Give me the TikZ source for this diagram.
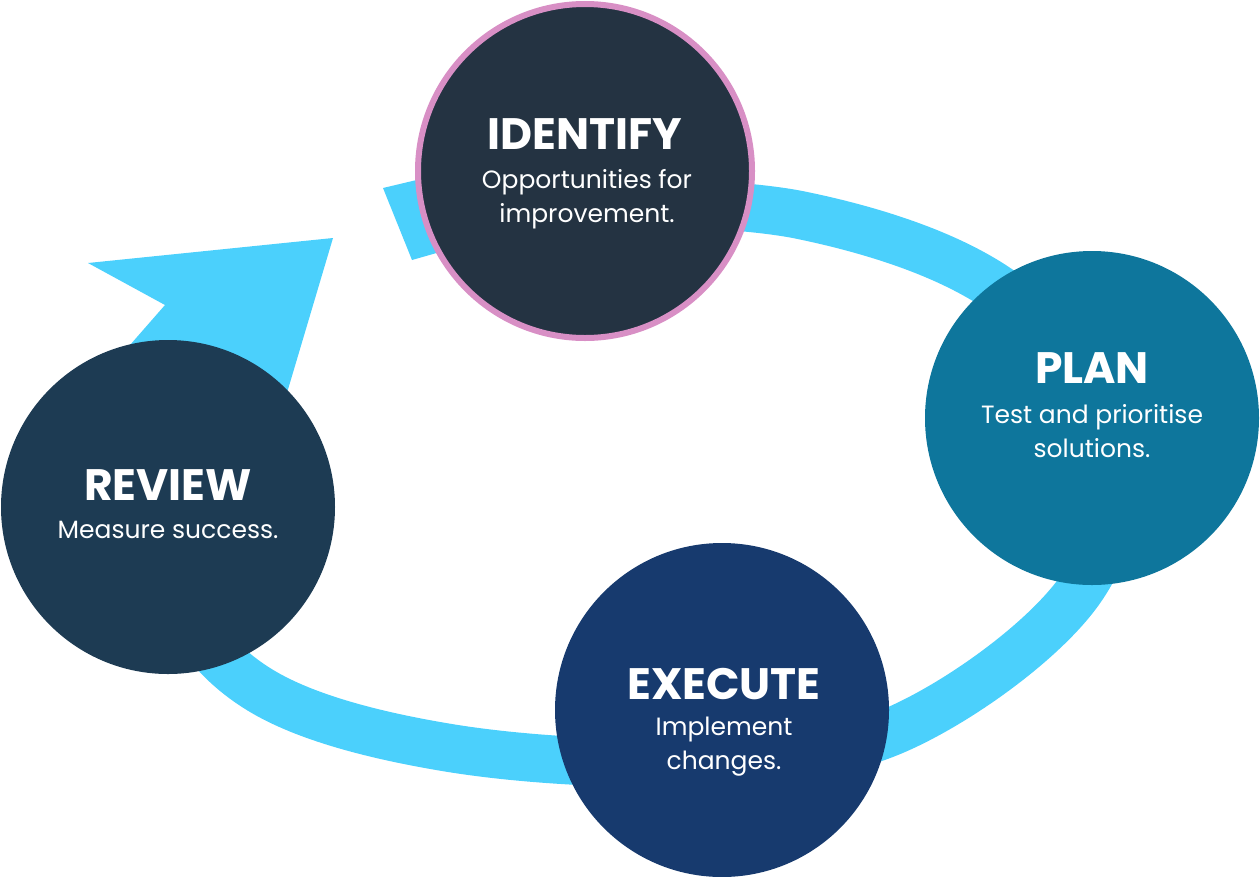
\documentclass[tikz,border=0pt]{standalone}
\usepackage{fontspec}
\setmainfont{Poppins}
\definecolor{ring}{HTML}{4BD0FC}
\definecolor{cid}{HTML}{243342}
\definecolor{cplan}{HTML}{0E769C}
\definecolor{cexe}{HTML}{173A6E}
\definecolor{crev}{HTML}{1D3B53}
\definecolor{pinkb}{HTML}{D88FC5}
\begin{document}
\begin{tikzpicture}[x=1pt,y=-1pt,
  stepc/.style={circle,minimum size=334pt,inner sep=0pt,text=white,align=center},
  ttl/.style={font=\fontsize{44}{50}\selectfont\bfseries},
  sub/.style={font=\fontsize{25}{34}\selectfont}]
\useasboundingbox (0,0) rectangle (1260,876);
% band
\draw[ring,line width=48pt] plot[smooth,tension=0.6] coordinates{(560,200) (800,215) (1000,290) (1110,430) (1080,590) (900,728) (700,762) (450,748) (260,690) (175,580) (190,430) (235,330)};
\fill[ring] (383,188) -- (425,178) -- (440,252) -- (412,260) -- cycle;
\fill[ring] (88,263) -- (333,238) -- (270,450) -- (140,440) -- (130,345) -- (165,305) -- cycle;
% circles
\node[stepc,fill=cid,draw=pinkb,line width=6pt,minimum size=334pt] (id) at (585,171) {};
\node[stepc,fill=cplan] (plan) at (1092,418) {};
\node[stepc,fill=cexe] (exe) at (722,710) {};
\node[stepc,fill=crev] (rev) at (168,507) {};
% texts
\node[ttl,text=white] (t1) at (585,134) {IDENTIFY};
\node[sub,text=white,align=center] (s1) at (587,199) {Opportunities for\\improvement.};
\node[ttl,text=white] (t2) at (1092,368) {PLAN};
\node[sub,text=white,align=center] (s2) at (1092,431) {Test and prioritise\\solutions.};
\node[ttl,text=white] (t3) at (724,684) {EXECUTE};
\node[sub,text=white,align=center] (s3) at (724,747) {Implement\\changes.};
\node[ttl,text=white] (t4) at (168,485) {REVIEW};
\node[sub,text=white] (s4) at (168,530) {Measure success.};
\end{tikzpicture}
\end{document}
